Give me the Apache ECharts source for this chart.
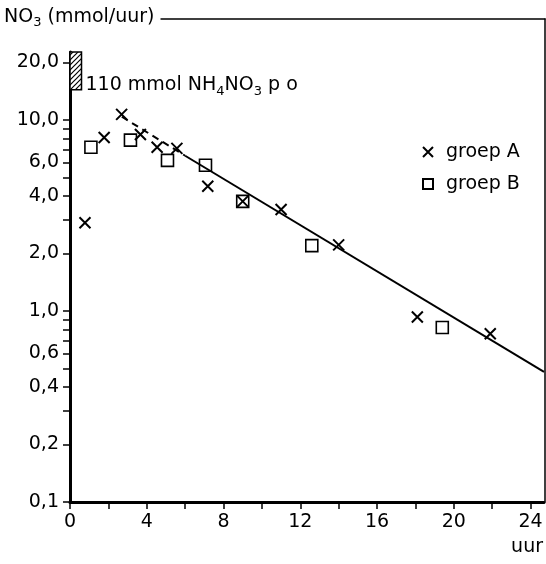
<!DOCTYPE html>
<html>
<head>
<meta charset="utf-8">
<script src="https://cdn.jsdelivr.net/npm/echarts@6/dist/echarts.min.js"></script>
<style>
    html, body { margin: 0; padding: 0; background: #fff; }
    #chart { width: 546px; height: 564px; }
</style>
</head>
<body>
<div id="chart"></div>
<script>
//data
var groepA = [[0.78, 2.9], [1.78, 8.1], [2.69, 10.7], [3.67, 8.4], [4.54, 7.2], [5.57, 7.1],
    [7.18, 4.5], [9.0, 3.75], [11.0, 3.4], [14.0, 2.22], [18.1, 0.93], [21.9, 0.76]];
var groepB = [[1.09, 7.2], [3.15, 7.85], [5.08, 6.15], [7.06, 5.8], [9.0, 3.75], [12.6, 2.2], [19.4, 0.82]];
var lijnGestippeld = [[2.7, 10.4], [6.0, 6.5]];
var lijnDoorgetrokken = [[6.0, 6.5], [24.7, 0.48]];
var dosis = [[0, 0.6, 14.4, 22.7]];   // x van, x tot, y van, y tot
var dosisLabelY = 15.2;
var yLabels = [0.1, 0.2, 0.4, 0.6, 1, 2, 4, 6, 10, 20];
var yTicks = [0.1, 0.2, 0.3, 0.4, 0.5, 0.6, 0.7, 0.8, 0.9, 1, 2, 3, 4, 5, 6, 7, 8, 9, 10, 20];
var xLabels = [0, 4, 8, 12, 16, 20, 24];
var xTicks = [0, 2, 4, 6, 8, 10, 12, 14, 16, 18, 20, 22, 24];

var font = 'DejaVu Sans';
var fs = 19;

//arcering voor de dosis-balk
function hatch() {
    var c = document.createElement('canvas');
    c.width = 5;
    c.height = 5;
    var ctx = c.getContext('2d');
    ctx.fillStyle = '#fff';
    ctx.fillRect(0, 0, 5, 5);
    ctx.strokeStyle = '#000';
    ctx.lineWidth = 1.2;
    ctx.beginPath();
    ctx.moveTo(-1, 6); ctx.lineTo(6, -1);
    ctx.moveTo(-1, 1); ctx.lineTo(1, -1);
    ctx.moveTo(4, 6); ctx.lineTo(6, 4);
    ctx.stroke();
    return c;
}
var hatchPattern = { image: hatch(), repeat: 'repeat' };

function komma(v) {
    return v.toFixed(1).replace('.', ',');
}

var chart = echarts.init(document.getElementById('chart'));

var options = {
    animation: false,
    textStyle: { fontFamily: font, color: '#000' },
    title: {
        text: 'NO{sub|3} (mmol/uur)',
        left: 2,
        top: 3,
        padding: [2, 6, 2, 2],
        backgroundColor: '#fff',
        textStyle: {
            fontFamily: font,
            fontSize: fs,
            fontWeight: 'normal',
            color: '#000',
            lineHeight: 24,
            rich: {
                sub: { fontFamily: font, fontSize: 13, lineHeight: 12, padding: [12, 0, 0, 0], color: '#000' }
            }
        }
    },
    legend: {
        orient: 'vertical',
        left: 417,
        top: 137,
        itemWidth: 10,
        itemHeight: 10,
        itemGap: 12,
        data: ['groep A', 'groep B'],
        textStyle: { fontFamily: font, fontSize: fs, color: '#000', lineHeight: 20, padding: [0, 0, 0, 8] }
    },
    grid: [
        { left: 70, right: 1, top: 52, bottom: 62 },
        { left: 70, right: 1, top: 19, bottom: 62 }
    ],
    xAxis: [
        {
            type: 'value',
            gridIndex: 0,
            min: 0,
            max: 24.7,
            name: 'uur',
            nameLocation: 'end',
            nameGap: -1,
            nameTextStyle: { fontFamily: font, fontSize: fs, color: '#000', align: 'right', verticalAlign: 'top', padding: [36, 0, 0, 0] },
            axisLine: { onZero: false, lineStyle: { color: '#000', width: 3 } },
            axisTick: { length: 7, lineStyle: { color: '#000', width: 1.5 }, customValues: xTicks },
            axisLabel: { margin: 11, fontSize: fs, color: '#000', customValues: xLabels },
            splitLine: { show: false }
        },
        {
            type: 'value',
            gridIndex: 1,
            position: 'top',
            min: 0,
            max: 1,
            axisLine: { onZero: false, lineStyle: { color: '#000', width: 1.5 } },
            axisTick: { show: false },
            axisLabel: { show: false },
            splitLine: { show: false }
        }
    ],
    yAxis: [
        {
            type: 'log',
            logBase: 10,
            gridIndex: 0,
            min: 0.1,
            max: 22.7,
            axisLine: { onZero: false, lineStyle: { color: '#000', width: 3 } },
            axisTick: { length: 7, lineStyle: { color: '#000', width: 1.5 }, customValues: yTicks },
            axisLabel: {
                margin: 11,
                fontSize: fs,
                color: '#000',
                customValues: yLabels,
                formatter: function (v) { return komma(v); }
            },
            splitLine: { show: false }
        },
        {
            type: 'value',
            gridIndex: 1,
            position: 'right',
            min: 0,
            max: 1,
            axisLine: { show: true, onZero: false, lineStyle: { color: '#000', width: 1.5 } },
            axisTick: { show: false },
            axisLabel: { show: false },
            splitLine: { show: false }
        }
    ],
    series: [
        {
            type: 'custom',
            xAxisIndex: 0,
            yAxisIndex: 0,
            data: dosis,
            silent: true,
            renderItem: function (params, api) {
                var p1 = api.coord([api.value(0), api.value(3)]);
                var p2 = api.coord([api.value(1), api.value(2)]);
                var ly = api.coord([api.value(1), dosisLabelY])[1];
                return {
                    type: 'group',
                    children: [
                        {
                            type: 'rect',
                            shape: { x: p1[0], y: p1[1], width: p2[0] - p1[0], height: p2[1] - p1[1] },
                            style: { fill: hatchPattern, stroke: '#000', lineWidth: 1.5 }
                        },
                        {
                            type: 'text',
                            x: p2[0] + 4,
                            y: ly,
                            style: {
                                text: '110 mmol NH{sub|4}NO{sub|3} p o',
                                fontFamily: font,
                                fontSize: fs,
                                fill: '#000',
                                lineHeight: 24,
                                verticalAlign: 'middle',
                                rich: {
                                    sub: { fontFamily: font, fontSize: 13, lineHeight: 12, padding: [12, 0, 0, 0], fill: '#000' }
                                }
                            }
                        }
                    ]
                };
            }
        },
        {
            type: 'line',
            data: lijnGestippeld,
            symbol: 'none',
            silent: true,
            lineStyle: { color: '#000', width: 2, type: [7, 5] }
        },
        {
            type: 'line',
            data: lijnDoorgetrokken,
            symbol: 'none',
            silent: true,
            lineStyle: { color: '#000', width: 2 }
        },
        {
            name: 'groep B',
            type: 'scatter',
            data: groepB,
            symbol: 'rect',
            symbolSize: 12,
            itemStyle: { color: '#fff', borderColor: '#000', borderWidth: 1.6, opacity: 1 }
        },
        {
            name: 'groep A',
            type: 'scatter',
            data: groepA,
            symbol: 'path://M0,0L10,10M10,0L0,10',
            symbolSize: 11,
            itemStyle: { color: 'rgba(0,0,0,0)', borderColor: '#000', borderWidth: 2, opacity: 1 }
        }
    ]
};

chart.setOption(options);
</script>
</body>
</html>
